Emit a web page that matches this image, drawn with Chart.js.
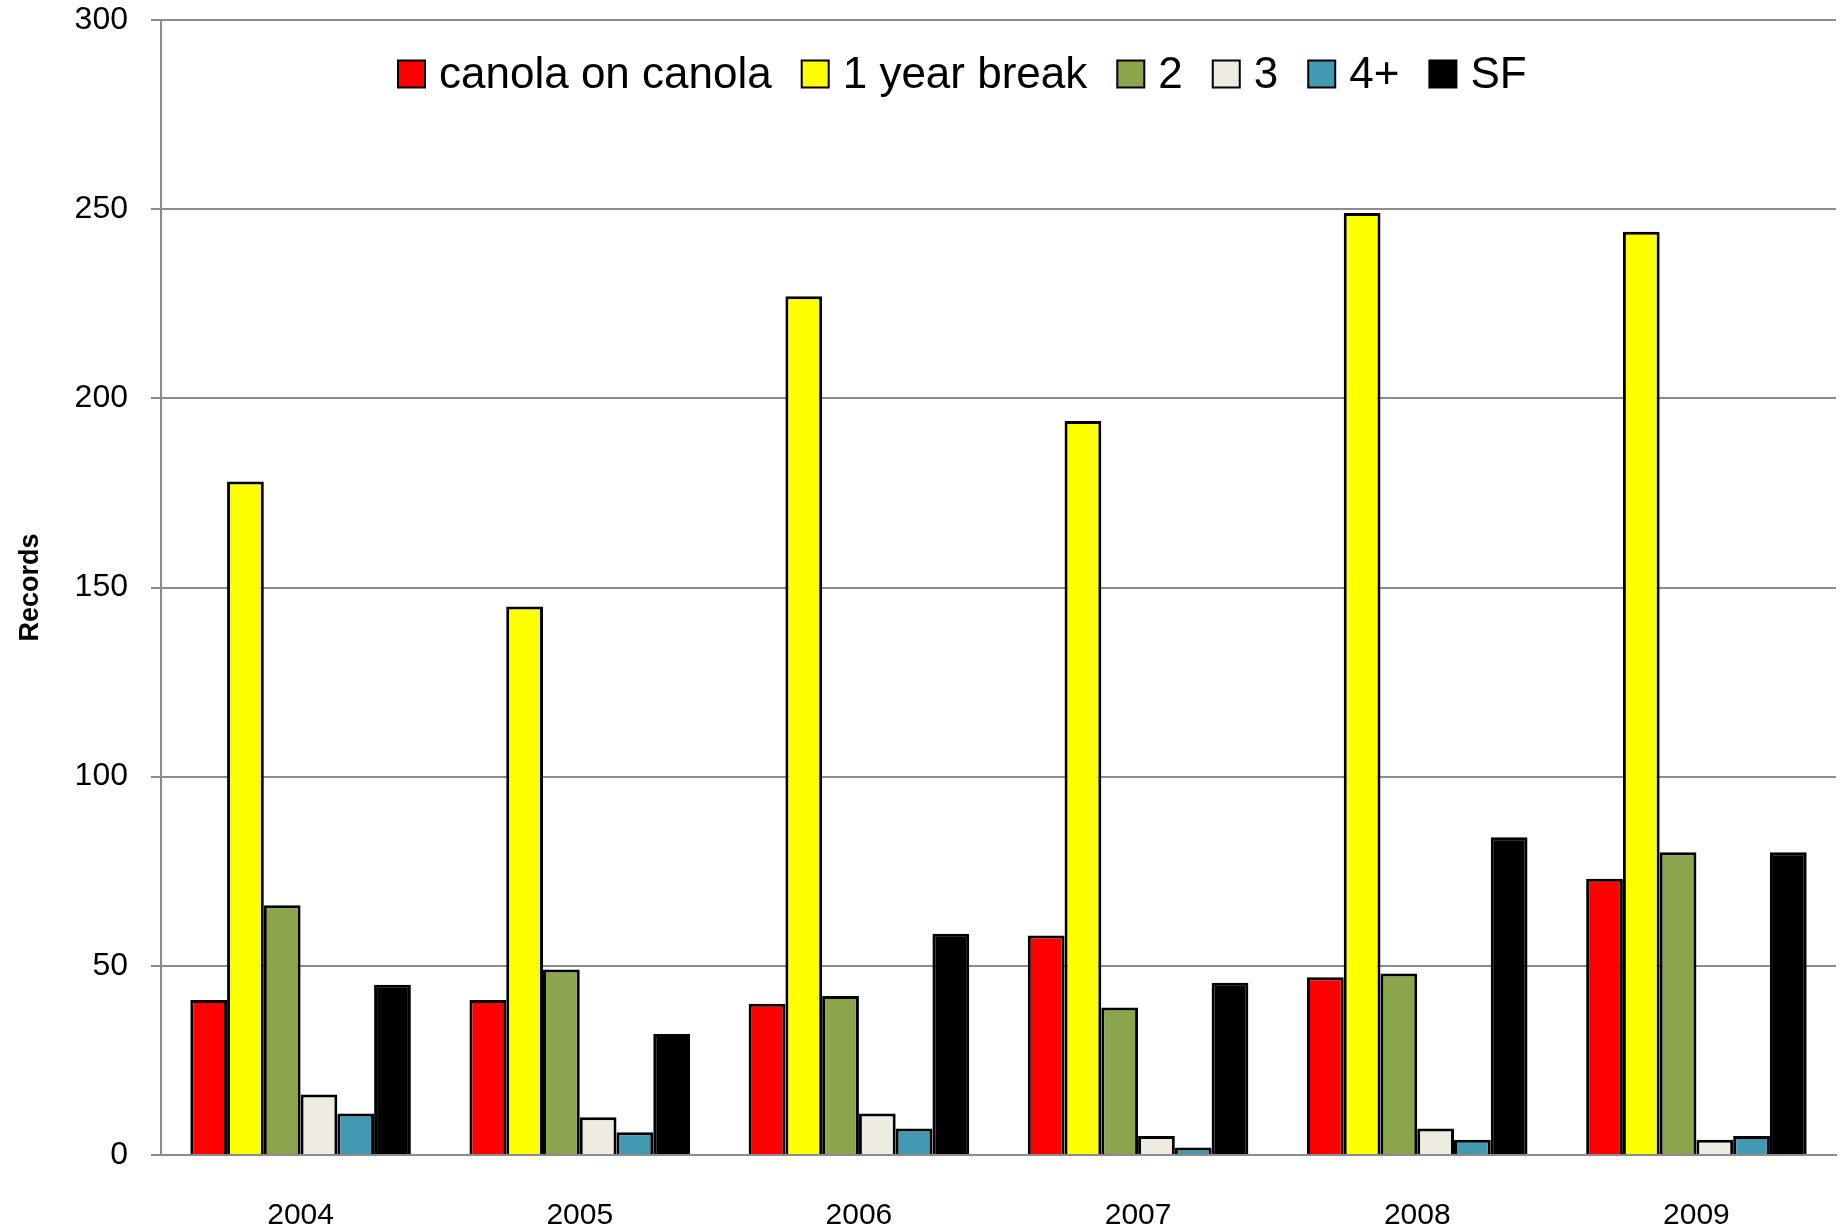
<!DOCTYPE html>
<html>
<head>
<meta charset="utf-8">
<script src="https://cdn.jsdelivr.net/npm/chart.js@4.4.1/dist/chart.umd.min.js"></script>
<style>
    html, body { margin: 0; padding: 0; background: #fff; }
    .chart-box { position: relative; width: 1845px; height: 1232px; }
</style>
</head>
<body>
<div class="chart-box"><canvas id="records-chart"></canvas></div>
<script>
const years = ["2004", "2005", "2006", "2007", "2008", "2009"];
const seriesNames = ["canola on canola", "1 year break", "2", "3", "4+", "SF"];

const canolaOnCanola = [41, 41, 40, 58, 47, 73];
const oneYearBreak = [178, 145, 227, 194, 249, 244];
const twoYears = [66, 49, 42, 39, 48, 80];
const threeYears = [16, 10, 11, 5, 7, 4];
const fourPlus = [11, 6, 7, 2, 4, 5];
const sf = [45, 32, 58.5, 45.5, 84, 80];

const yMin = 0;
const yMax = 300;
const yStep = 50;

const seriesColors = ["#ff0000", "#ffff00", "#8ba54c", "#eeece1", "#4399b2", "#000000"];
const gridColor = "#8c8c8c";

Chart.defaults.color = "#000";
Chart.defaults.font.family = "'Liberation Sans', Arial, sans-serif";

// legend drawn inside the plot, like the original
const insideLegendPlugin = {
    id: "insideLegend",
    afterDraw(chart) {
        const { ctx } = chart;
        const boxSize = 27;
        const y = 74;
        let x = 398;
        ctx.save();
        ctx.font = "44px 'Liberation Sans', Arial, sans-serif";
        ctx.textBaseline = "middle";
        ctx.textAlign = "left";
        chart.data.datasets.forEach((ds) => {
            ctx.fillStyle = ds.backgroundColor;
            ctx.fillRect(x, y - boxSize / 2, boxSize, boxSize);
            ctx.lineWidth = 2;
            ctx.strokeStyle = "#000";
            ctx.strokeRect(x, y - boxSize / 2, boxSize, boxSize);
            x += boxSize + 14;
            ctx.fillStyle = "#000";
            ctx.fillText(ds.label, x, y + 2);
            x += ctx.measureText(ds.label).width + 30;
        });
        ctx.restore();
    },
};

const seriesValues = [canolaOnCanola, oneYearBreak, twoYears, threeYears, fourPlus, sf];

const chart_data = {
    labels: years,
    datasets: seriesValues.map((values, i) => ({
        label: seriesNames[i],
        data: values,
        backgroundColor: seriesColors[i],
        borderColor: "#000",
        borderWidth: 3,
        borderSkipped: "bottom",
        barPercentage: 1,
        categoryPercentage: 0.79,
    })),
};

const chart_config = {
    type: "bar",
    data: chart_data,
    options: {
        responsive: true,
        maintainAspectRatio: false,
        animation: false,
        layout: {
            padding: { top: 0, right: 9, bottom: 0, left: 0 },
        },
        plugins: {
            legend: { display: false },
            tooltip: { enabled: false },
        },
        scales: {
            x: {
                grid: { display: false, drawTicks: false },
                border: { display: true, color: gridColor, width: 2 },
                ticks: {
                    padding: 43,
                    font: { size: 30 },
                    maxRotation: 0,
                },
                afterFit(scale) {
                    scale.height = 77;
                },
            },
            y: {
                min: yMin,
                max: yMax,
                ticks: {
                    stepSize: yStep,
                    padding: 23,
                    font: { size: 32 },
                },
                grid: {
                    color: gridColor,
                    lineWidth: 2,
                    tickLength: 10,
                },
                border: { color: gridColor, width: 2 },
                title: {
                    display: true,
                    text: "Records",
                    font: { size: 27, weight: "bold" },
                    padding: { top: 14, bottom: 0 },
                },
                afterFit(scale) {
                    scale.width = 161;
                    scale.paddingTop = 20; // tick padding would otherwise push the plot down
                },
            },
        },
    },
    plugins: [insideLegendPlugin],
};

new Chart(document.getElementById("records-chart"), chart_config);
</script>
</body>
</html>
